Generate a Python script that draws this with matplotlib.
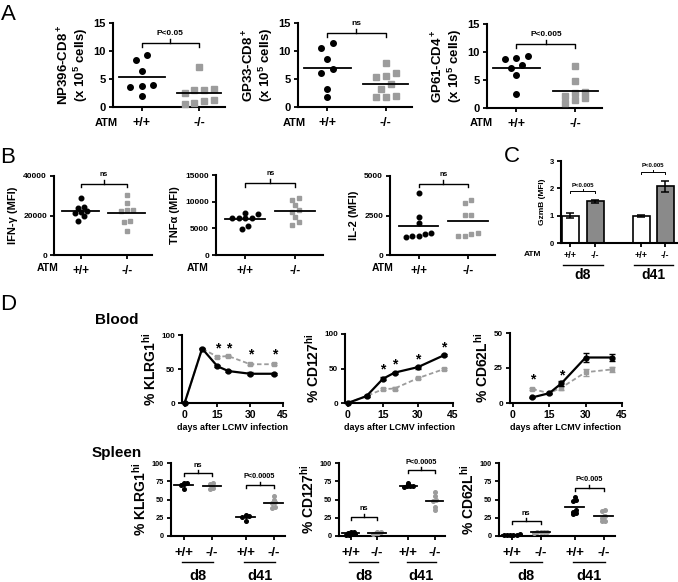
import numpy as np
import matplotlib.pyplot as plt
from matplotlib.transforms import offset_copy

plt.rcParams['font.family'] = ['Liberation Sans', 'DejaVu Sans']
plt.rcParams['font.weight'] = 'bold'
plt.rcParams['axes.labelweight'] = 'bold'
plt.rcParams['mathtext.fontset'] = 'custom'
plt.rcParams['mathtext.rm'] = 'Liberation Sans:bold'
plt.rcParams['mathtext.bf'] = 'Liberation Sans:bold'
plt.rcParams['mathtext.default'] = 'bf'

GRAY = '#9c9c9c'
genotypes = ["+/+", "-/-"]

# ---------------- A: epitope-specific cells (x 10^5)
a_labels = ["NP396-CD8$^+$\n(x 10$^5$ cells)", "GP33-CD8$^+$\n(x 10$^5$ cells)",
            "GP61-CD4$^+$\n(x 10$^5$ cells)"]
a_wt = [[9.3, 8.4, 6.5, 4.0, 3.6, 3.8, 2.0],
        [11.4, 10.5, 8.6, 6.7, 6.1, 3.2, 1.8],
        [9.3, 8.9, 8.7, 7.7, 7.1, 5.9, 2.5]]
a_ko = [[7.1, 3.2, 3.0, 3.1, 2.5, 1.0, 0.7, 0.6, 1.2],
        [7.9, 6.0, 5.6, 5.4, 4.1, 3.2, 1.8, 1.7, 2.0],
        [7.5, 4.9, 2.9, 2.6, 2.2, 1.8, 1.5, 0.9]]
a_p = ["P<0.05", "ns", "P<0.005"]
a_bracket = [11.4, 13.2, 11.4]

# ---------------- B: cytokine MFI
b_labels = ["IFN-γ (MFI)", "TNFα (MFI)", "IL-2 (MFI)"]
b_max = [40000, 15000, 5000]
b_ticks = [[0, 20000, 40000], [0, 5000, 10000, 15000], [0, 2500, 5000]]
b_wt = [[29000, 24500, 24000, 22500, 22000, 21500, 19500, 17200],
        [7900, 7600, 7000, 7000, 7000, 7000, 5500, 4900],
        [3900, 2400, 2000, 1400, 1200, 1150, 1200, 1300]]
b_ko = [[30200, 26400, 23000, 23000, 22500, 17300, 16800, 12300],
        [10700, 10400, 9450, 8500, 8000, 7100, 6100, 5700],
        [3500, 3300, 2560, 2520, 1320, 1200, 1200, 1400]]
b_bracket = [36000, 13500, 4500]

# ---------------- C: GzmB
c_groups = ["d8", "d41"]
c_wt = [1.0, 1.0]
c_wt_err = [0.08, 0.04]
c_ko = [1.52, 2.08]
c_ko_err = [0.06, 0.2]
c_p = ["P<0.005", "P<0.005"]
c_bracket = [1.9, 2.6]

# ---------------- D: blood kinetics
blood_labels = ["% KLRG1$^{hi}$", "% CD127$^{hi}$", "% CD62L$^{hi}$"]
blood_days = [[0, 8, 15, 20, 30, 41], [0, 8, 15, 20, 30, 41], [8, 15, 20, 30, 41]]
blood_wt = [[0, 80, 54, 47, 43, 43], [0, 10, 35, 44, 52, 69], [4, 7, 14, 32.5, 32.5]]
blood_ko = [[0, 80, 68, 69, 57, 57], [0, 10, 20, 21, 36, 49], [10, 7, 11, 22, 24]]
blood_wt_err = [[0, 1, 1.5, 1.5, 2, 1.5], [0, 1, 2, 1.5, 2, 1.5], [0.5, 0.5, 1.5, 3, 2.5]]
blood_ko_err = [[0, 1, 1.5, 1.5, 1.5, 1.5], [0, 1, 1.5, 1.5, 1.5, 1.5], [1, 0.5, 1.5, 2.5, 2]]
blood_ymax = [100, 100, 50]
blood_ticks = [[0, 50, 100], [0, 50, 100], [0, 25, 50]]
star_days = [[15, 20, 30, 41], [15, 20, 30, 41], [8, 20]]
star_y = [[80, 80, 71, 71], [48, 56, 63, 81], [17, 20]]

# ---------------- D: spleen (d8 +/+, d8 -/-, d41 +/+, d41 -/-)
spleen_labels = ["% KLRG1$^{hi}$", "% CD127$^{hi}$", "% CD62L$^{hi}$"]
spleen_vals = [
    [[73, 72, 71, 70, 65], [73, 71, 68, 66, 65], [29, 28, 27, 26, 20], [55, 50, 47, 45, 40, 38]],
    [[6, 5, 4, 3, 3, 2, 1], [5, 4, 4, 3, 6], [73, 70, 69, 68, 68, 67], [60, 55, 50, 48, 40, 35]],
    [[2, 2, 1, 1, 3, 2], [6, 5, 4, 6, 5], [53, 49, 48, 35, 33, 31, 30], [35, 34, 28, 27, 25, 21, 20]],
]
spleen_p = [["ns", "P<0.0005"], ["ns", "P<0.0005"], ["ns", "P<0.005"]]
spleen_bracket = [[86, 70], [26, 90], [20, 66]]

W, H = 678, 582
fig = plt.figure(figsize=(W / 100, H / 100), dpi=100)


def box(x0, y0, x1, y1):
    return fig.add_axes([x0 / W, 1 - y1 / H, (x1 - x0) / W, (y1 - y0) / H])


def ftext(x, y, s, **kw):
    kw.setdefault('ha', 'center')
    kw.setdefault('va', 'center')
    fig.text(x / W, 1 - y / H, s, **kw)


def style(ax, fs):
    for s in ['top', 'right']:
        ax.spines[s].set_visible(False)
    for s in ['left', 'bottom']:
        ax.spines[s].set_linewidth(1.5)
    ax.tick_params(width=1.3, length=3, labelsize=fs, pad=2)


def swarm(vals, thresh, step):
    # spread points that sit at similar heights side by side
    vals = np.asarray(vals, float)
    offs = np.zeros(len(vals))
    groups = []
    for i in np.argsort(vals):
        if groups and vals[i] - vals[groups[-1][0]] < thresh:
            groups[-1].append(i)
        else:
            groups.append([i])
    for g in groups:
        offs[g] = (np.arange(len(g)) - (len(g) - 1) / 2) * step
    return offs


def dots(ax, x, vals, color, marker, ms, thresh, step, half):
    vals = np.asarray(vals, float)
    ax.plot(x + swarm(vals, thresh, step), vals, ls='none', marker=marker,
            color=color, ms=ms, mec=color, clip_on=False, zorder=3)
    ax.plot([x - half, x + half], [vals.mean()] * 2, color='black', lw=1.3, zorder=4)


def bracket(ax, x0, x1, y, drop, text, fs, lw=1.0):
    ax.plot([x0, x0, x1, x1], [y - drop, y, y, y - drop], color='black', lw=lw, clip_on=False)
    xm = (x0 + x1) / 2
    ax.plot([xm, xm], [y, y + drop], color='black', lw=lw, clip_on=False)
    ax.text(xm, y + drop * 1.6, text, ha='center', va='bottom', fontsize=fs)


def group_lines(ax, pairs, names, dy_line, dy_text, fs, half):
    for (xa, xb), name in zip(pairs, names):
        tl = offset_copy(ax.get_xaxis_transform(), fig=fig, y=-dy_line, units='dots')
        tt = offset_copy(ax.get_xaxis_transform(), fig=fig, y=-dy_text, units='dots')
        ax.plot([xa - half, xb + half], [0, 0], color='black', lw=1.0, transform=tl, clip_on=False)
        ax.text((xa + xb) / 2, 0, name, transform=tt, ha='center', va='baseline', fontsize=fs)


# panel letters
ftext(8, 15, "A", fontsize=16, fontweight='normal')
ftext(8, 158, "B", fontsize=16, fontweight='normal')
ftext(512, 157, "C", fontsize=16, fontweight='normal')
ftext(8, 305, "D", fontsize=16, fontweight='normal')

# ---- A
a_boxes = [(113, 23, 225, 107), (298, 23, 412, 107), (487, 24, 602, 108)]
a_atm = [106, 294, 481]
for i, bx in enumerate(a_boxes):
    ax = box(*bx)
    style(ax, 8)
    ax.set_ylim(0, 15)
    ax.set_yticks([0, 5, 10, 15])
    ax.set_xlim(-0.5, 1.45)
    ax.set_xticks([0, 1])
    ax.set_xticklabels(genotypes, fontsize=9)
    ax.tick_params(axis='x', pad=4)
    dots(ax, 0, a_wt[i], 'black', 'o', 4, 1.0, 0.2, 0.4)
    dots(ax, 1, a_ko[i], GRAY, 's', 3.8, 1.0, 0.17, 0.38)
    bracket(ax, 0, 1, a_bracket[i], 0.7, a_p[i], 6)
    ax.set_ylabel(a_labels[i], fontsize=9.5, labelpad=3, linespacing=1.0)
    ftext(a_atm[i], 123, "ATM", fontsize=8)

# ---- B
b_boxes = [(54, 176, 152, 255), (216, 175, 323, 255), (390, 176, 495, 255)]
b_atm = [48, 198, 383]
for i, bx in enumerate(b_boxes):
    ax = box(*bx)
    style(ax, 6)
    ax.set_ylim(0, b_max[i])
    ax.set_yticks(b_ticks[i])
    ax.set_xlim(-0.58, 1.55)
    ax.set_xticks([0, 1])
    ax.set_xticklabels(genotypes, fontsize=8.5)
    ax.tick_params(axis='x', pad=4)
    dots(ax, 0, b_wt[i], 'black', 'o', 3.3, b_max[i] * 0.06, 0.13, 0.4)
    dots(ax, 1, b_ko[i], GRAY, 's', 3.3, b_max[i] * 0.06, 0.13, 0.4)
    bracket(ax, 0, 1, b_bracket[i], b_max[i] * 0.045, "ns", 5)
    ax.set_ylabel(b_labels[i], fontsize=8, labelpad=4)
    ftext(b_atm[i], 268, "ATM", fontsize=7.5)

# ---- C
ax = box(561, 161, 677, 243)
style(ax, 5.5)
cx = [0, 1, 2.85, 3.8]
ax.set_ylim(0, 3)
ax.set_yticks([0, 1, 2, 3])
ax.set_xlim(-0.38, 4.28)
ax.bar([cx[0], cx[2]], c_wt, width=0.68, color='white', edgecolor='black', lw=1.2,
       yerr=c_wt_err, error_kw=dict(lw=1.1, capsize=3, capthick=1.1))
ax.bar([cx[1], cx[3]], c_ko, width=0.68, color='#8a8a8a', edgecolor='black', lw=1.2,
       yerr=c_ko_err, error_kw=dict(lw=1.1, capsize=3, capthick=1.1))
ax.set_xticks(cx)
ax.set_xticklabels(genotypes * 2, fontsize=6.5)
ax.tick_params(axis='x', pad=3)
for k in range(2):
    bracket(ax, cx[2 * k], cx[2 * k + 1], c_bracket[k], 0.08, c_p[k], 4.3, lw=0.7)
ax.set_ylabel("GzmB (MFI)", fontsize=6, labelpad=3)
group_lines(ax, [(cx[0], cx[1]), (cx[2], cx[3])], c_groups, 22, 36, 10, 0.3)
ftext(532, 255, "ATM", fontsize=6)

# ---- D blood
ftext(117, 320, "Blood", fontsize=11)
blood_boxes = [(182, 335, 283, 403), (345, 334, 453, 403), (510, 333, 622, 403)]
for i, bx in enumerate(blood_boxes):
    ax = box(*bx)
    style(ax, 5.8)
    ax.tick_params(axis='x', labelsize=7.5)
    ax.set_ylim(0, blood_ymax[i])
    ax.set_yticks(blood_ticks[i])
    ax.set_xlim(-1.2, 45)
    ax.set_xticks([0, 15, 30, 45])
    ax.errorbar(blood_days[i], blood_ko[i], yerr=blood_ko_err[i], color=GRAY, ls=(0, (2.5, 1.5)),
                lw=1.3, marker='s', ms=3.2, capsize=2.5, elinewidth=1, clip_on=False, zorder=2)
    ax.errorbar(blood_days[i], blood_wt[i], yerr=blood_wt_err[i], color='black', ls='-',
                lw=1.6, marker='o', ms=3.5, capsize=2.5, elinewidth=1, clip_on=False, zorder=3)
    for d, y in zip(star_days[i], star_y[i]):
        ax.text(d, y, "*", ha='center', va='center', fontsize=10)
    ax.set_ylabel(blood_labels[i], fontsize=10, labelpad=2)
    ax.set_xlabel("days after LCMV infection", fontsize=6.5, labelpad=2)

# ---- D spleen
ftext(117, 453, "Spleen", fontsize=11)
spleen_boxes = [(171, 463, 285, 536), (339, 463, 445, 536), (499, 463, 615, 536)]
sx = [0, 1, 2.2, 3.2]
for i, bx in enumerate(spleen_boxes):
    ax = box(*bx)
    style(ax, 5.3)
    ax.set_ylim(0, 100)
    ax.set_yticks([0, 25, 50, 75, 100])
    ax.set_xlim(-0.45, 3.6)
    ax.set_xticks(sx)
    ax.set_xticklabels(genotypes * 2, fontsize=9.5)
    ax.tick_params(axis='x', pad=5)
    for j in range(4):
        col = 'black' if j % 2 == 0 else GRAY
        dots(ax, sx[j], spleen_vals[i][j], col, 'o', 2.6, 3, 0.11, 0.33)
    for k in range(2):
        bracket(ax, sx[2 * k], sx[2 * k + 1], spleen_bracket[i][k], 4, spleen_p[i][k], 5.3)
    ax.set_ylabel(spleen_labels[i], fontsize=10, labelpad=2)
    group_lines(ax, [(sx[0], sx[1]), (sx[2], sx[3])], c_groups, 26, 44, 10.5, 0.05)

fig.savefig("out.png", dpi=100)
